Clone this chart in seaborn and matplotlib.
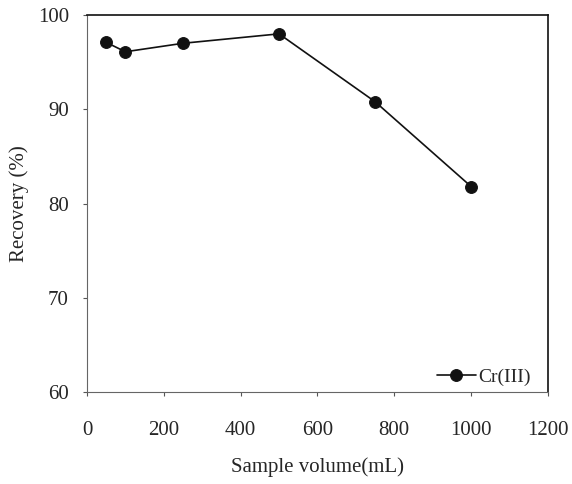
import matplotlib
matplotlib.use("Agg")
import matplotlib.pyplot as plt
import seaborn as sns
import pandas as pd

volume = [50, 100, 250, 500, 750, 1000]
recovery = [97.1, 96.1, 97.0, 98.0, 90.8, 81.8]
series = ["Cr(III)"] * len(volume)

sns.set_theme(style="white")
plt.rcParams['font.family'] = ['Liberation Serif', 'DejaVu Serif']

df = pd.DataFrame({"Sample volume(mL)": volume, "Recovery (%)": recovery, "series": series})

fig = plt.figure(figsize=(5.72, 4.84), dpi=100)
ax = fig.add_axes([0.152, 0.19, 0.806, 0.779])
sns.lineplot(data=df, x="Sample volume(mL)", y="Recovery (%)", hue="series",
             palette=["#111111"], marker="o", markersize=8.5, linewidth=1.2,
             markeredgecolor="#111111", ax=ax)

ax.set_xlim(0, 1200)
ax.set_ylim(60, 100)
ax.set_xticks([0, 200, 400, 600, 800, 1000, 1200])
ax.set_yticks([60, 70, 80, 90, 100])
ax.tick_params(axis='both', labelsize=15, direction='out', length=3, width=0.8,
               color='#555555', bottom=True, left=True)
ax.tick_params(axis='x', pad=18)
ax.tick_params(axis='y', pad=10)
ax.set_xlabel("Sample volume(mL)", fontsize=15, labelpad=12)
ax.set_ylabel("Recovery (%)", fontsize=15, labelpad=6)

for side in ["top", "right"]:
    ax.spines[side].set_color("#111111")
    ax.spines[side].set_linewidth(1.2)
for side in ["left", "bottom"]:
    ax.spines[side].set_color("#666666")
    ax.spines[side].set_linewidth(0.8)
    ax.spines[side].set_linestyle((0, (1, 1)))

leg = ax.legend(loc="lower right", bbox_to_anchor=(0.976, 0.0), frameon=False,
                fontsize=14, handlelength=2.0, handletextpad=0.15,
                borderaxespad=0, borderpad=0.3)

fig.savefig("out.png", dpi=100)
